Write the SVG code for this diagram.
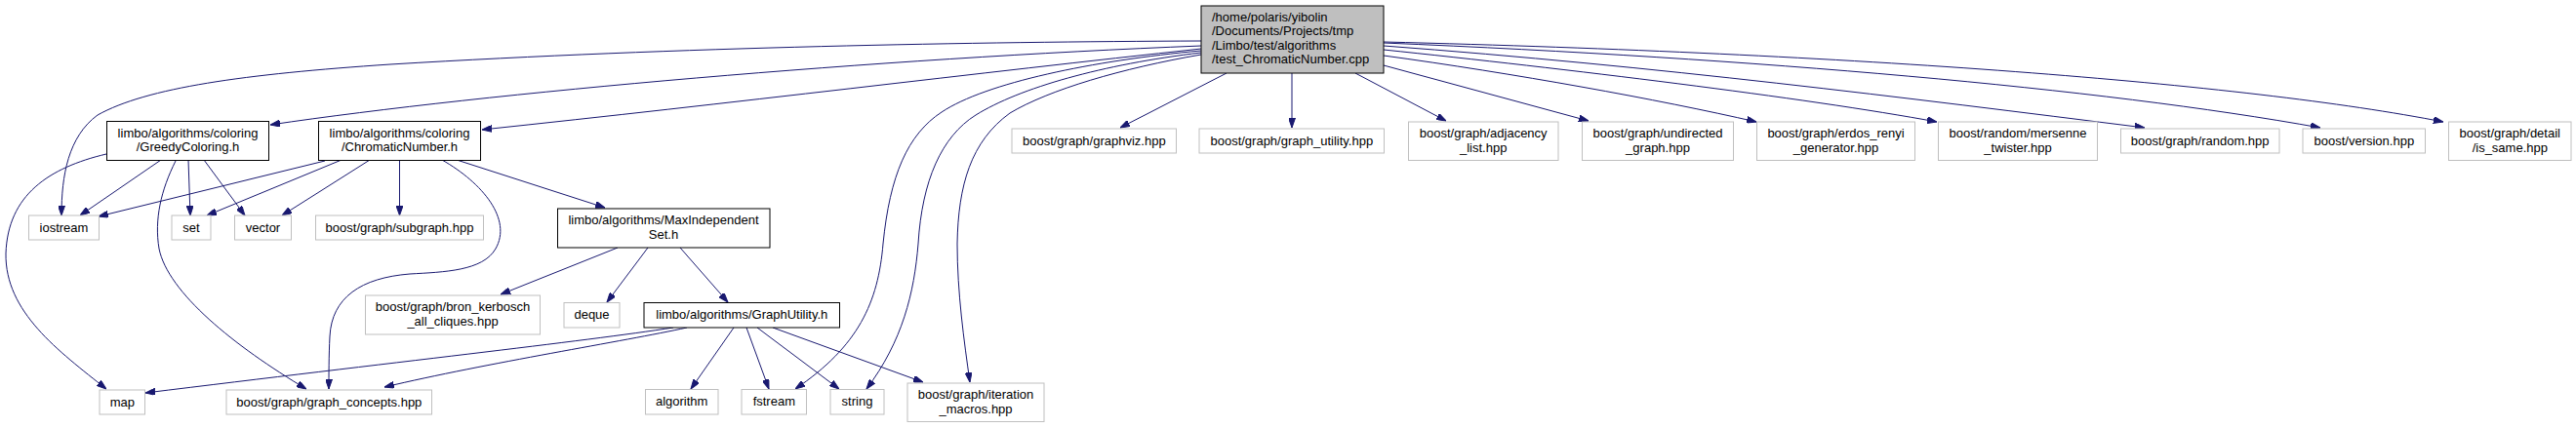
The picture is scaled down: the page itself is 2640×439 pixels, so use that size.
<svg xmlns="http://www.w3.org/2000/svg" width="2640" height="439" viewBox="0 0 2640 439">
<style>
  .bg { fill: #ffffff; }
  .n rect { fill: #ffffff; stroke: #bfbfbf; stroke-width: 1; }
  .n.doc rect { stroke: #000000; }
  .n.main rect { fill: #bfbfbf; stroke: #000000; }
  .n text { font-family: "Liberation Sans", Arial, sans-serif; font-size: 13px; fill: #000000; text-anchor: middle; }
  .n.main text { text-anchor: start; }
  .e path { fill: none; stroke: #191970; stroke-width: 1; marker-end: url(#arr); }
</style>
<defs>
  <marker id="arr" markerWidth="10" markerHeight="7" refX="10" refY="3.5" orient="auto" markerUnits="userSpaceOnUse">
    <path d="M0,0 L10,3.5 L0,7 z" fill="#191970" stroke="#191970" stroke-width="1"/>
  </marker>
</defs>
<rect class="bg" x="0" y="0" width="2640" height="439"/>

<g id="edges" class="e">
  <!-- main -> left / down -->
  <path d="M1231,42 C1000,43 700,48 400,66 C250,76 150,90 100,118 C70,140 63,180 63,221"/>
  <path d="M1231,47 C900,60 500,95 277,128"/>
  <path d="M1231,50 C1000,75 750,106 494,133"/>
  <path d="M1231,52 C1120,62 1010,85 965,115 C930,138 912,180 905,250 C900,310 880,355 815,399"/>
  <path d="M1231,54 C1130,66 1045,90 1000,118 C965,140 945,185 941,250 C937,300 925,350 888,399"/>
  <path d="M1231,56 C1150,70 1075,92 1035,116 C995,145 982,190 981,250 C981,300 988,350 994,392"/>
  <path d="M1257,75 L1148,131"/>
  <path d="M1324,75 L1324,131"/>
  <path d="M1389,75 L1482,124"/>
  <path d="M1418,67 L1628,124"/>
  <path d="M1418,57 C1550,75 1700,102 1800,125"/>
  <path d="M1418,51 C1600,70 1850,100 1985,125"/>
  <path d="M1418,47 C1700,68 1950,100 2198,131"/>
  <path d="M1418,44 C1800,60 2150,90 2378,131"/>
  <path d="M1418,43 C1900,55 2300,85 2504,125"/>
  <!-- GreedyColoring -->
  <path d="M165,164 L82,221"/>
  <path d="M193,164 L195,221"/>
  <path d="M209,164 L251,221"/>
  <path d="M109,158 C50,172 8,200 6,260 C5,320 60,360 109,399"/>
  <path d="M180,165 C165,195 158,225 163,255 C172,300 240,355 314,399"/>
  <!-- ChromaticNumber -->
  <path d="M333,165 L101,222"/>
  <path d="M350,164 L212,221"/>
  <path d="M379,164 L289,221"/>
  <path d="M409.5,164 L409.5,221"/>
  <path d="M468,164 L620,213"/>
  <path d="M453,164 C495,188 525,225 508,255 C495,278 455,279 420,281 C370,285 340,305 338,345 C337,365 337,385 337,399"/>
  <!-- MaxIndependentSet -->
  <path d="M633,254 L513,302"/>
  <path d="M664,254 L622,310"/>
  <path d="M697,254 L746,310"/>
  <!-- GraphUtility -->
  <path d="M690,336 C600,350 400,372 149,403"/>
  <path d="M704,336 C640,350 500,372 394,397"/>
  <path d="M752,336 L708,399"/>
  <path d="M765,336 L788,399"/>
  <path d="M776,336 L860,399"/>
  <path d="M792,336 L946,392"/>
</g>

<g id="node-main" class="n main">
  <rect x="1231" y="6" width="187" height="69"/>
  <text x="1242" y="21.5">/home/polaris/yibolin</text>
  <text x="1242" y="36">/Documents/Projects/tmp</text>
  <text x="1242" y="50.5">/Limbo/test/algorithms</text>
  <text x="1242" y="65">/test_ChromaticNumber.cpp</text>
</g>
<g id="node-greedy" class="n doc">
  <rect x="109.5" y="124.5" width="166" height="40"/>
  <text x="192.5" y="140.5">limbo/algorithms/coloring</text>
  <text x="192.5" y="155">/GreedyColoring.h</text>
</g>
<g id="node-chromatic" class="n doc">
  <rect x="326.5" y="124.5" width="166" height="40"/>
  <text x="409.5" y="140.5">limbo/algorithms/coloring</text>
  <text x="409.5" y="155">/ChromaticNumber.h</text>
</g>
<g id="node-iostream" class="n">
  <rect x="29.5" y="221" width="72" height="25"/>
  <text x="65.5" y="237.5">iostream</text>
</g>
<g id="node-set" class="n">
  <rect x="176" y="221" width="40" height="25"/>
  <text x="196" y="237.5">set</text>
</g>
<g id="node-vector" class="n">
  <rect x="240.5" y="221" width="58" height="25"/>
  <text x="269.5" y="237.5">vector</text>
</g>
<g id="node-subgraph" class="n">
  <rect x="323.5" y="221" width="172" height="25"/>
  <text x="409.5" y="237.5">boost/graph/subgraph.hpp</text>
</g>
<g id="node-mis" class="n doc">
  <rect x="571.5" y="214" width="217.5" height="40"/>
  <text x="680" y="230">limbo/algorithms/MaxIndependent</text>
  <text x="680" y="244.5">Set.h</text>
</g>
<g id="node-bron" class="n">
  <rect x="374.5" y="303" width="179" height="40"/>
  <text x="464" y="319">boost/graph/bron_kerbosch</text>
  <text x="464" y="333.5">_all_cliques.hpp</text>
</g>
<g id="node-deque" class="n">
  <rect x="578" y="310.5" width="57" height="25.5"/>
  <text x="606.5" y="327">deque</text>
</g>
<g id="node-graphutility" class="n doc">
  <rect x="660" y="310.5" width="200.5" height="25.5"/>
  <text x="760.3" y="327">limbo/algorithms/GraphUtility.h</text>
</g>
<g id="node-map" class="n">
  <rect x="102" y="400" width="46.5" height="25"/>
  <text x="125.3" y="416.5">map</text>
</g>
<g id="node-graphconcepts" class="n">
  <rect x="232" y="400" width="210.5" height="25"/>
  <text x="337.3" y="416.5">boost/graph/graph_concepts.hpp</text>
</g>
<g id="node-algorithm" class="n">
  <rect x="661.5" y="399.5" width="74.5" height="25.5"/>
  <text x="698.7" y="416">algorithm</text>
</g>
<g id="node-fstream" class="n">
  <rect x="760" y="399.5" width="66.5" height="25.5"/>
  <text x="793.3" y="416">fstream</text>
</g>
<g id="node-string" class="n">
  <rect x="851" y="399.5" width="55" height="25.5"/>
  <text x="878.5" y="416">string</text>
</g>
<g id="node-iteration" class="n">
  <rect x="930" y="393" width="140" height="39.5"/>
  <text x="1000" y="409">boost/graph/iteration</text>
  <text x="1000" y="423.5">_macros.hpp</text>
</g>
<g id="node-graphviz" class="n">
  <rect x="1037" y="132" width="168.5" height="25"/>
  <text x="1121.3" y="148.5">boost/graph/graphviz.hpp</text>
</g>
<g id="node-graphutilityhpp" class="n">
  <rect x="1229" y="132" width="189.5" height="25"/>
  <text x="1323.8" y="148.5">boost/graph/graph_utility.hpp</text>
</g>
<g id="node-adjacency" class="n">
  <rect x="1443.5" y="125" width="153.5" height="39.5"/>
  <text x="1520.2" y="141">boost/graph/adjacency</text>
  <text x="1520.2" y="155.5">_list.hpp</text>
</g>
<g id="node-undirected" class="n">
  <rect x="1621.5" y="125" width="155" height="39.5"/>
  <text x="1699" y="141">boost/graph/undirected</text>
  <text x="1699" y="155.5">_graph.hpp</text>
</g>
<g id="node-erdos" class="n">
  <rect x="1800.5" y="125" width="162" height="39.5"/>
  <text x="1881.5" y="141">boost/graph/erdos_renyi</text>
  <text x="1881.5" y="155.5">_generator.hpp</text>
</g>
<g id="node-mersenne" class="n">
  <rect x="1986.5" y="125" width="163" height="39.5"/>
  <text x="2068" y="141">boost/random/mersenne</text>
  <text x="2068" y="155.5">_twister.hpp</text>
</g>
<g id="node-random" class="n">
  <rect x="2173.5" y="132" width="162.5" height="25"/>
  <text x="2254.7" y="148.5">boost/graph/random.hpp</text>
</g>
<g id="node-version" class="n">
  <rect x="2360" y="132" width="125.5" height="25"/>
  <text x="2422.8" y="148.5">boost/version.hpp</text>
</g>
<g id="node-issame" class="n">
  <rect x="2509.5" y="125" width="125.5" height="39.5"/>
  <text x="2572.3" y="141">boost/graph/detail</text>
  <text x="2572.3" y="155.5">/is_same.hpp</text>
</g>
</svg>
